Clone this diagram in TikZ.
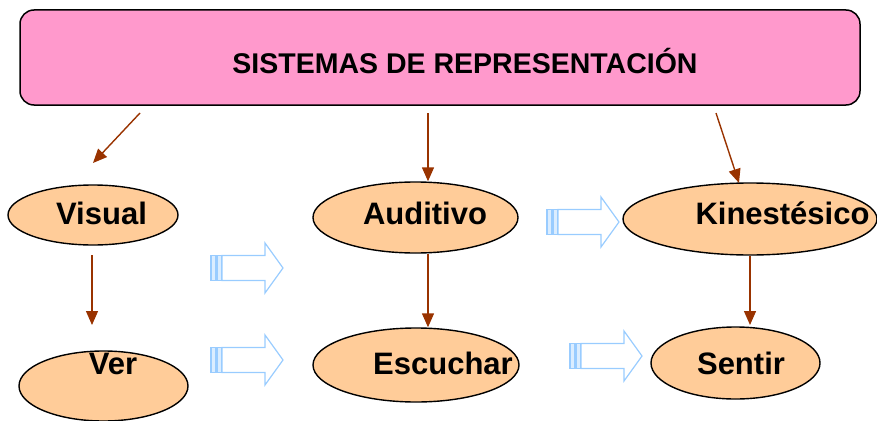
\documentclass[tikz,border=0pt]{standalone}
\usepackage{fontspec}
\setmainfont{Liberation Sans}
\usetikzlibrary{shapes.geometric,arrows.meta,calc}
\definecolor{titlepink}{HTML}{FF99CC}
\definecolor{peach}{HTML}{FFCC99}
\definecolor{arrbrown}{HTML}{993300}
\definecolor{lblue}{HTML}{99CCFF}
\begin{document}
\begin{tikzpicture}[x=1pt,y=-1pt,
  oval/.style={ellipse, draw=black, line width=1.4pt, fill=peach, inner sep=0pt},
  lbl/.style={anchor=base, font=\bfseries\fontsize{31}{36}\selectfont, inner sep=0pt},
  conn/.style={draw=arrbrown, line width=1.4pt, -{Triangle[length=14pt,width=12pt]}},
  barrow/.pic={
    \draw[lblue, line width=1.2pt, fill=lblue!35] (0,-12.5) rectangle (4.5,12.5);
    \draw[lblue, line width=1.2pt, fill=lblue!35] (6,-12.5) rectangle (10.5,12.5);
    \draw[lblue, line width=1.2pt, line join=miter] (11,-12.5) -- (54,-12.5) -- (54,-25) -- (72,0) -- (54,25) -- (54,12.5) -- (11,12.5) -- cycle;
  }]
\useasboundingbox (0,0) rectangle (877,420);

% title
\node[draw=black, line width=1.5pt, fill=titlepink, rounded corners=14pt,
      minimum width=840pt, minimum height=95pt, inner sep=0pt] (title) at (440,57.5) {};
\node[anchor=base, inner sep=0pt, font=\bfseries\fontsize{28.5}{32}\selectfont] (titletext) at (465,73) {SISTEMAS DE REPRESENTACIÓN};

% ovals
\node[oval, minimum width=170pt, minimum height=60pt] (vis) at (93,215) {};
\node[oval, minimum width=205pt, minimum height=71pt] (aud) at (415.5,217.5) {};
\node[oval, minimum width=254pt, minimum height=72pt] (kin) at (750,219) {};
\node[oval, minimum width=169pt, minimum height=70pt] (ver) at (103.5,386) {};
\node[oval, minimum width=206pt, minimum height=74pt] (esc) at (416,365) {};
\node[oval, minimum width=169pt, minimum height=72pt] (sen) at (735.5,363) {};

\node[lbl] (tvis) at (101.5,224.5) {Visual};
\node[lbl] (taud) at (425,224) {Auditivo};
\node[lbl] (tkin) at (782.5,224) {Kinestésico};
\node[lbl] (tver) at (113,374) {Ver};
\node[lbl] (tesc) at (443,374) {Escuchar};
\node[lbl] (tsen) at (741,374) {Sentir};

% connectors
\coordinate (s1) at (140,113);
\coordinate (e1) at (93,163);
\coordinate (s2) at (428,113);
\coordinate (s3) at (716,113);
\coordinate (e3) at (739,183);
\coordinate (s4) at (92,255);
\coordinate (e4) at (92,325);
\coordinate (e6) at (750,325);
\draw[conn] (s1) -- (e1);
\draw[conn] (s2) -- (s2 |- aud.north);
\draw[conn] (s3) -- (e3);
\draw[conn] (s4) -- (e4);
\draw[conn] (s2 |- aud.south) -- (s2 |- esc.north);
\draw[conn] (e6 |- kin.south) -- (e6);

% block arrows
\pic at (211,268) {barrow};
\pic at (211,360) {barrow};
\pic at (547,222) {barrow};
\pic at (570,356) {barrow};
\end{tikzpicture}
\end{document}
